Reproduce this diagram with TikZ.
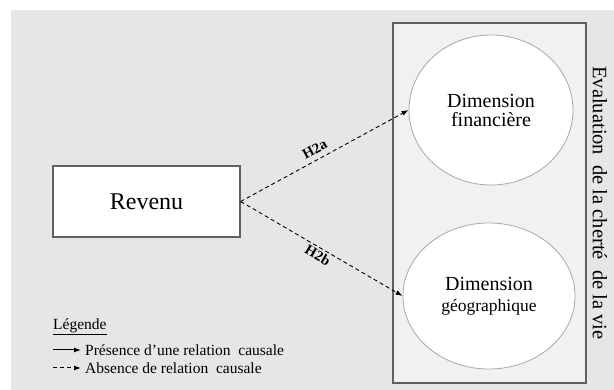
\documentclass[tikz,border=0pt]{standalone}
\usepackage{fontspec}
\setmainfont{Liberation Serif}
\usetikzlibrary{shapes.geometric,arrows.meta}
\definecolor{bggray}{HTML}{E6E6E6}
\definecolor{boxgray}{HTML}{F1F1F1}
\definecolor{edgedark}{HTML}{606060}
\definecolor{edgelight}{HTML}{A8A8A8}
\tikzset{
  px/.style={x=1pt,y=-1pt},
  revbox/.style={draw=edgedark,line width=1.3pt,fill=white,minimum width=187pt,minimum height=71pt,inner sep=0pt,font=\fontsize{24}{28}\selectfont},
  dimell/.style={ellipse,draw=edgelight,line width=0.8pt,fill=white,inner sep=0pt,align=center,font=\fontsize{20}{20}\selectfont},
  hyp/.style={-{Latex[length=7pt,width=5pt]},dash pattern=on 4pt off 3pt,line width=0.9pt},
  solidarr/.style={-{Latex[length=7pt,width=5pt]},line width=1pt},
  hlabel/.style={font=\fontsize{14.5}{16}\selectfont\bfseries,inner sep=1pt},
  legtext/.style={anchor=west,inner sep=4pt,font=\fontsize{15.5}{18}\selectfont},
}
\begin{document}
\begin{tikzpicture}[px]
\useasboundingbox (0,0) rectangle (614,390);
\fill[bggray] (11,10) rectangle (614,390);
\draw[draw=edgedark,line width=1.5pt,fill=boxgray] (393,23) rectangle (586,383);
\node[dimell,minimum width=164pt,minimum height=150pt] (e1) at (491,110)
  {Dimension\\[-1pt]financière};
\node[dimell,minimum width=172pt,minimum height=146pt] (e2) at (489,296)
  {Dimension\\[1pt]{\fontsize{17.5}{20}\selectfont géographique}};
\node[rotate=-90,font=\fontsize{20.5}{24}\selectfont] (ev) at (600,203) {Evaluation\ \ de la cherté\ \ de la vie};
\node[revbox] (rev) at (146.5,201.5) {Revenu};
\draw[hyp] (rev.east) -- (e1.west) node[pos=0.47,hlabel,above=4pt,sloped] (h2a) {H2a};
\draw[hyp] (rev.east) -- (e2.west) node[pos=0.5,hlabel,below=1pt,sloped] (h2b) {H2b};
\node[anchor=west,inner sep=0pt,font=\fontsize{15.5}{18}\selectfont] (leg) at (53,327) {\underline{Légende}};
\coordinate (s1) at (53,350);
\coordinate (s2) at (53,368);
\node[legtext] (t1) at (81,350) {Présence d'une relation\ \ causale};
\node[legtext] (t2) at (81,368) {Absence de relation\ \ causale};
\draw[solidarr] (s1) -- (t1.west);
\draw[-{Latex[length=7pt,width=5pt]},dash pattern=on 4pt off 3pt,line width=1pt] (s2) -- (t2.west);
\end{tikzpicture}
\end{document}
